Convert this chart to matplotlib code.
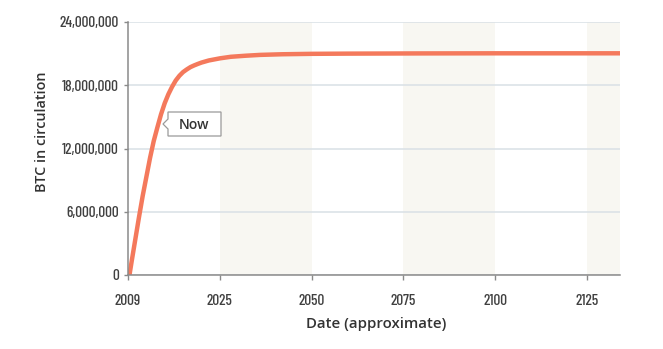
import matplotlib
matplotlib.use('Agg')
import matplotlib.pyplot as plt
from matplotlib.patches import Polygon
from matplotlib.ticker import FuncFormatter

# Данные: шкала по оси X в "годах графика" от первой отметки (2009)
t_axis = [0.4, 1, 2, 3, 4, 5, 6, 7, 8, 9, 10, 11, 12, 13, 14, 15, 16, 17, 18,
          19, 20, 22, 25, 28, 32, 36, 42, 50, 60, 80, 100, 134]
btc_supply = [0, 1.3e6, 3.4e6, 5.5e6, 7.5e6, 9.3e6, 11.1e6, 12.7e6, 14.0e6,
              15.25e6, 16.3e6, 17.15e6, 17.85e6, 18.45e6, 18.9e6, 19.25e6,
              19.5e6, 19.72e6, 19.88e6, 20.02e6, 20.15e6, 20.35e6, 20.55e6,
              20.7e6, 20.8e6, 20.88e6, 20.94e6, 20.98e6, 21.0e6, 21.02e6,
              21.03e6, 21.03e6]

x_ticks = [0, 25, 50, 75, 100, 125]
x_tick_labels = ['2009', '2025', '2050', '2075', '2100', '2125']
y_ticks = [0, 6e6, 12e6, 18e6, 24e6]
shaded = [(25, 50), (75, 100), (125, 134)]

LINE = '#f4795c'
TICK_FONT = ['Barlow Condensed', 'Sofia Sans Condensed', 'DejaVu Sans']
LABEL_FONT = ['Open Sans', 'DejaVu Sans']

W, H = 663, 349
fig = plt.figure(figsize=(W / 100, H / 100), dpi=100)
ax = fig.add_axes([128 / W, 1 - 275 / H, (620 - 128) / W, (275 - 22) / H])

for a, b in shaded:
    ax.axvspan(a, b, color='#f8f7f2', lw=0, zorder=0)

ax.plot(t_axis, btc_supply, color=LINE, lw=3.2, solid_capstyle='butt',
        solid_joinstyle='round', zorder=3)

ax.set_xlim(0, 134)
ax.set_ylim(0, 24e6)
ax.set_xticks(x_ticks)
ax.set_xticklabels(x_tick_labels)
ax.set_yticks(y_ticks)
ax.yaxis.set_major_formatter(FuncFormatter(lambda v, p: f'{int(v):,}'))

ax.grid(axis='y', color='#d9e0e6', lw=1.1, zorder=1)
ax.set_axisbelow(True)
for s in ['top', 'right']:
    ax.spines[s].set_visible(False)
for s in ['left', 'bottom']:
    ax.spines[s].set_color('#8a8a8a')
    ax.spines[s].set_linewidth(1.1)
    ax.spines[s].set_zorder(4)

ax.tick_params(axis='x', length=3.5, width=1, color='#8a8a8a', pad=10)
ax.tick_params(axis='y', length=3, width=1, color='#8a8a8a', pad=3.5)
for lab in ax.get_xticklabels() + ax.get_yticklabels():
    lab.set_family(TICK_FONT)
    lab.set_fontsize(11)
    lab.set_fontweight('medium')
    lab.set_color('#404040')

ax.set_ylabel('BTC in circulation', family=LABEL_FONT, fontsize=10.4,
              fontweight='semibold', color='#333333')
ax.set_xlabel('Date (approximate)', family=LABEL_FONT, fontsize=10.8,
              fontweight='semibold', color='#333333')
ax.yaxis.set_label_coords(-0.161, 0.565)
ax.xaxis.set_label_coords(0.505, -0.166)

# Выноска "Now"
pts = [(168, 112), (221, 112), (221, 136), (168, 136), (168, 129), (163, 124), (168, 119)]
poly = Polygon([(x / W, 1 - y / H) for x, y in pts], closed=True,
               transform=fig.transFigure, facecolor='white', edgecolor='#9a9a9a',
               lw=0.9, zorder=5)
fig.add_artist(poly)
fig.text(194.5 / W, 1 - 124.5 / H, 'Now', ha='center', va='center',
         family=LABEL_FONT, fontsize=10, fontweight='semibold', color='#333333',
         zorder=6)

fig.savefig('out.png', dpi=100)
